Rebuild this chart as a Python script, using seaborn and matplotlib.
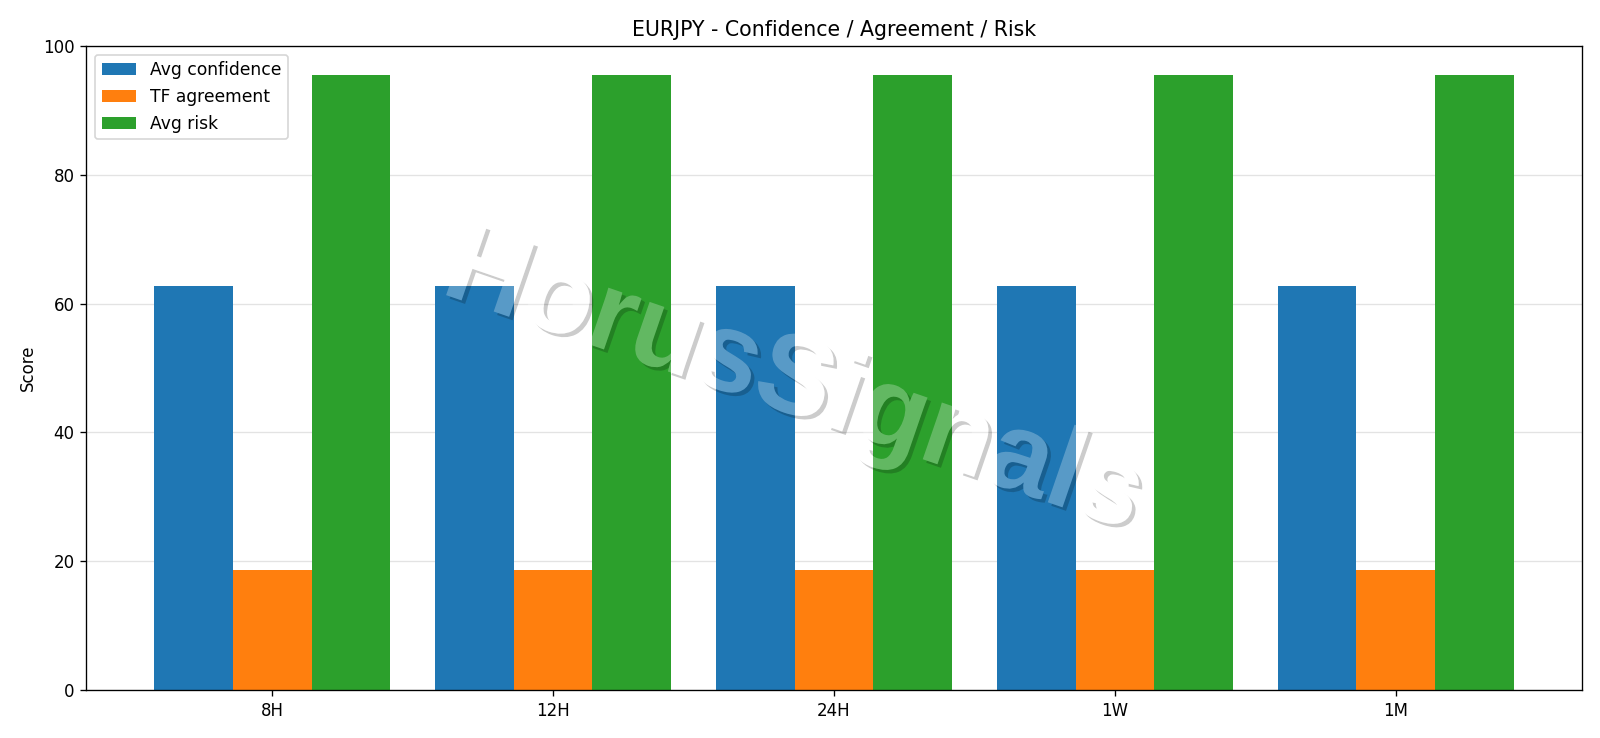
import numpy as np
import pandas as pd
import matplotlib.pyplot as plt
import matplotlib.patheffects as pe
from matplotlib.path import Path
from matplotlib.textpath import TextPath
from matplotlib.transforms import Affine2D, IdentityTransform, offset_copy
import seaborn as sns

timeframes = ["8H", "12H", "24H", "1W", "1M"]
avg_confidence = [62.8, 62.8, 62.8, 62.8, 62.8]
tf_agreement = [18.7, 18.7, 18.7, 18.7, 18.7]
avg_risk = [95.5, 95.5, 95.5, 95.5, 95.5]
metrics = ["Avg confidence", "TF agreement", "Avg risk"]

df = pd.DataFrame({
    "Timeframe": timeframes * 3,
    "Metric": np.repeat(metrics, len(timeframes)),
    "Score": avg_confidence + tf_agreement + avg_risk,
})

fig, ax = plt.subplots(figsize=(1600 / 120, 738 / 120), dpi=120)
sns.barplot(data=df, x="Timeframe", y="Score", hue="Metric", order=timeframes,
            hue_order=metrics, palette=["#1f77b4", "#ff7f0e", "#2ca02c"],
            saturation=1, width=0.84, ax=ax, linewidth=0)
ax.set_xlim(-0.662, 4.662)
ax.set_ylim(0, 100)
ax.set_xlabel("")
ax.set_ylabel("Score")
ax.set_title("EURJPY - Confidence / Agreement / Risk", fontsize=12.3)
ax.grid(axis="y", color="#dddddd", linewidth=0.8, alpha=0.8)
ax.set_axisbelow(True)
ax.legend(loc="upper left", title=None, fontsize=10.3)
fig.subplots_adjust(left=0.054, right=0.9885, bottom=0.065, top=0.9377)

# watermark: translucent white letters, drop shadow only outside the letters
wm = "HorusSignals"
wm_kw = dict(fontsize=68, family="Liberation Sans", fontweight="bold",
             rotation=-19, ha="center", va="center")
wm_x, wm_y = 0.473, 0.475
t_fill = ax.text(wm_x, wm_y, wm, transform=ax.transAxes, color="white", alpha=0.26,
                 path_effects=[pe.Normal()], zorder=5, **wm_kw)
t_shadow = ax.text(wm_x, wm_y, wm, color="black", alpha=0.2,
                   transform=offset_copy(ax.transAxes, fig=fig, x=3.5, y=-3.5, units="dots"),
                   path_effects=[pe.Normal()], zorder=4, clip_on=True, **wm_kw)

fig.canvas.draw()
renderer = fig.canvas.get_renderer()
bbox, info, descent = t_fill._get_layout(renderer)
px, py = ax.transAxes.transform((wm_x, wm_y))
x0, y0 = info[0][2] + px, info[0][3] + py
glyphs = TextPath((0, 0), wm, prop=t_fill.get_fontproperties())
glyphs = glyphs.transformed(Affine2D().scale(fig.dpi / 72).rotate_deg(-19).translate(x0, y0))

W, H = fig.canvas.get_width_height()
poly = glyphs.to_polygons()[0]
area = 0.5 * np.sum(poly[:-1, 0] * poly[1:, 1] - poly[1:, 0] * poly[:-1, 1])
rect = [(-10, -10), (W + 10, -10), (W + 10, H + 10), (-10, H + 10), (-10, -10)]
if area > 0:
    rect = rect[::-1]
rect_path = Path(rect, [Path.MOVETO] + [Path.LINETO] * 3 + [Path.CLOSEPOLY])
clip = Path.make_compound_path(rect_path, glyphs)
t_shadow.set_clip_path(clip, IdentityTransform())

fig.savefig("out.png")
